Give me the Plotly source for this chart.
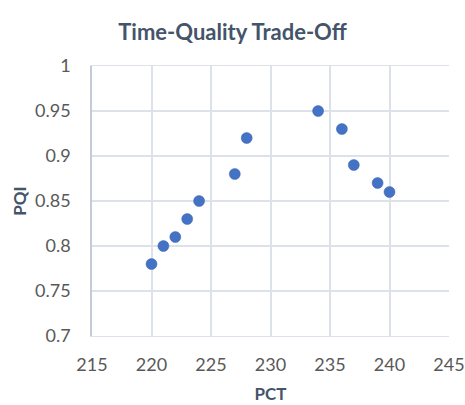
import plotly.graph_objects as go

# Process cycle time vs. process quality index
pct = [220, 221, 222, 223, 224, 227, 228, 234, 236, 237, 239, 240]
pqi = [0.78, 0.80, 0.81, 0.83, 0.85, 0.88, 0.92, 0.95, 0.93, 0.89, 0.87, 0.86]

x_ticks = [215, 220, 225, 230, 235, 240, 245]
y_ticks = [0.7, 0.75, 0.8, 0.85, 0.9, 0.95, 1]
y_labels = ["0.7", "0.75", "0.8", "0.85", "0.9", "0.95", "1"]

font_family = "Lato, Open Sans, sans-serif"
grid_color = "#dde2ea"
tick_color = "#595959"
title_color = "#44546a"

fig = go.Figure(
    go.Scatter(
        x=pct,
        y=pqi,
        mode="markers",
        marker=dict(size=11, color="#4472c4", line=dict(width=0.5, color="#3b64ad")),
        hoverinfo="x+y",
    )
)

fig.update_layout(
    width=465,
    height=405,
    margin=dict(l=92, r=16, t=66, b=69),
    paper_bgcolor="white",
    plot_bgcolor="white",
    showlegend=False,
    title=dict(
        text="<b>Time-Quality Trade-Off</b>",
        x=0.5,
        xanchor="center",
        y=0.92,
        yanchor="middle",
        font=dict(family=font_family, size=22, color=title_color),
    ),
    xaxis=dict(
        range=[215, 245],
        tickvals=x_ticks,
        automargin=False,
        showgrid=True,
        gridcolor=grid_color,
        gridwidth=1.5,
        zeroline=False,
        showline=True,
        linecolor=grid_color,
        mirror=True,
        ticks="",
        ticklabelstandoff=12,
        tickfont=dict(family=font_family, size=18, color=tick_color),
        title=dict(
            text="<b>PCT</b>",
            font=dict(family=font_family, size=17, color=title_color),
            standoff=14,
        ),
    ),
    yaxis=dict(
        range=[0.7, 1.0],
        tickvals=y_ticks,
        ticktext=y_labels,
        automargin=False,
        showgrid=True,
        gridcolor=grid_color,
        gridwidth=1.5,
        zeroline=False,
        showline=True,
        linecolor="#c3cbd6",
        linewidth=1.5,
        ticks="",
        ticklabelstandoff=16,
        tickfont=dict(family=font_family, size=18, color=tick_color),
        title=dict(
            text="<b>PQI</b>",
            font=dict(family=font_family, size=17, color=title_color),
            standoff=4,
        ),
    ),
)

fig.write_html("out.html")
